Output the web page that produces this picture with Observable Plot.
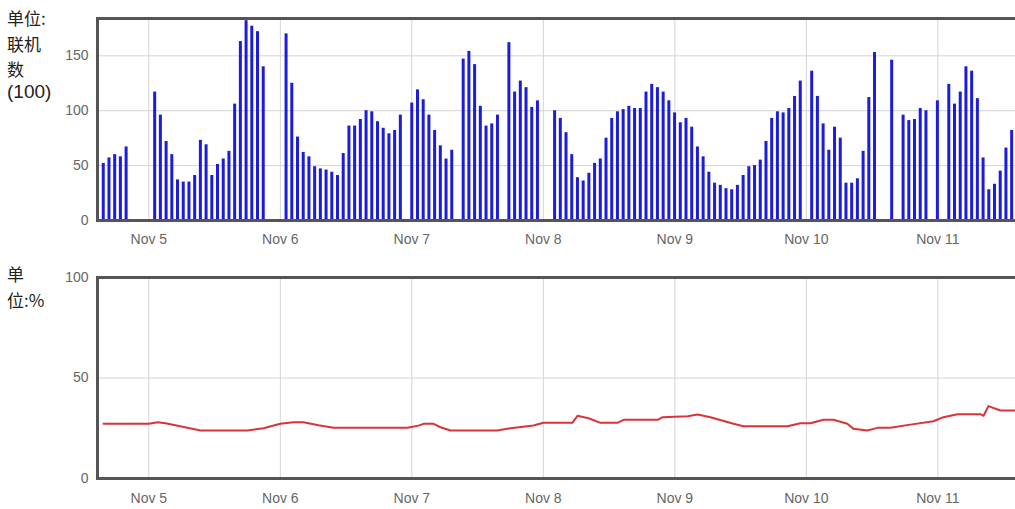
<!DOCTYPE html>
<html>
<head>
<meta charset="utf-8">
<script src="https://cdn.jsdelivr.net/npm/d3@7"></script>
<script src="https://cdn.jsdelivr.net/npm/@observablehq/plot@0.6"></script>
<style>
  html, body { margin: 0; padding: 0; background: #fff; overflow: hidden; width: 1015px; height: 509px; }
  #wrap { position: relative; width: 1015px; height: 509px; overflow: hidden; }
  .lbl { position: absolute; left: 7px; font-family: "Noto Sans CJK SC", "Liberation Sans", Arial, sans-serif; font-size: 17px; line-height: 18px; height: 18px; color: #222; white-space: pre; }
  .num { font-family: "Liberation Sans", Arial, sans-serif; font-size: 19px; }
  #topPanel { position: absolute; left: 0; top: 0; width: 1040px; }
  #botPanel { position: absolute; left: 0; top: 260px; width: 1040px; }
  svg { max-width: none !important; }
</style>
</head>
<body>
<div id="wrap">
  <div id="topPanel"></div>
  <div id="botPanel"></div>
  <div class="lbl" style="top:9px;">单位:</div>
  <div class="lbl" style="top:35px;">联机</div>
  <div class="lbl" style="top:60px;">数</div>
  <div class="lbl num" style="top:83px;">(100)</div>
  <div class="lbl" style="top:265px;">单</div>
  <div class="lbl" style="top:291px;">位:%</div>
</div>
<script>
// ---- data ----
const xDomain = ["2013-11-04T14:38Z", "2013-11-11T18:44Z"];
const dayTicks = ["2013-11-05", "2013-11-06", "2013-11-07", "2013-11-08", "2013-11-09", "2013-11-10", "2013-11-11"];

// top panel: online count (unit 100), regular samples (~62.5 min apart), null = missing
const barStart = "2013-11-04T15:41Z";
const barStepMinutes = 62.56;
const barValues = [
  52, 57, 60, 58, 67,
  null, null, null, null,
  117, 96, 72, 60, 37, 35, 35, 41, 73, 69, 41, 51, 56, 63, 106, 163, 182, 177, 172, 140,
  null, null, null,
  170, 125, 76, 62, 58, 49, 47, 46, 44, 41, 61, 86, 86, 92, 100, 99, 90, 84, 79, 82, 96,
  null,
  107, 119, 110, 96, 82, 68, 56, 64,
  null,
  147, 154, 142, 104, 86, 88, 96,
  null,
  162, 117, 127, 121, 103, 109,
  null, null,
  100, 93, 80, 60, 39, 36, 43, 52, 56, 75, 93, 99, 101, 104, 102, 102, 117, 124, 121, 117, 109, 98, 89,
  93, 85, 67, 58, 44, 34, 32, 29, 28, 32, 41, 49, 50, 55, 72, 93, 99, 98, 102, 113, 127,
  null,
  136, 113, 88, 64, 85, 75, 34, 34, 38, 63, 112, 153,
  null, null,
  146,
  null,
  96, 91, 92, 102, 100,
  null,
  109,
  null,
  124, 106, 117, 140, 136, 111, 57, 28, 33, 45, 66, 82
];

// bottom panel: percentage
const lineTimes = [
  "2013-11-04T15:44", "2013-11-05T00:00", "2013-11-05T01:35", "2013-11-05T03:04", "2013-11-05T09:27",
  "2013-11-05T18:01", "2013-11-05T20:56", "2013-11-06T00:00", "2013-11-06T02:24", "2013-11-06T04:13",
  "2013-11-06T06:58", "2013-11-06T09:42", "2013-11-06T23:12", "2013-11-07T01:12", "2013-11-07T02:08",
  "2013-11-07T03:58", "2013-11-07T05:14", "2013-11-07T07:03", "2013-11-07T15:37", "2013-11-07T18:00",
  "2013-11-07T22:12", "2013-11-08T00:00", "2013-11-08T05:17", "2013-11-08T06:14", "2013-11-08T08:15",
  "2013-11-08T10:26", "2013-11-08T13:32", "2013-11-08T14:38", "2013-11-08T20:51", "2013-11-08T21:46",
  "2013-11-09T02:20", "2013-11-09T04:09", "2013-11-09T06:30", "2013-11-09T10:42", "2013-11-09T12:32",
  "2013-11-09T20:34", "2013-11-09T22:55", "2013-11-10T00:45", "2013-11-10T03:07", "2013-11-10T04:57",
  "2013-11-10T07:29", "2013-11-10T08:36", "2013-11-10T11:08", "2013-11-10T12:58", "2013-11-10T15:20",
  "2013-11-10T18:59", "2013-11-10T23:11", "2013-11-11T01:00", "2013-11-11T03:35", "2013-11-11T07:47",
  "2013-11-11T08:20", "2013-11-11T09:14", "2013-11-11T11:25", "2013-11-11T14:24"
];
const lineValues = [
  27.2, 27.2, 28.0, 27.5, 23.9,
  23.9, 25.0, 27.2, 28.0, 28.0,
  26.5, 25.2, 25.2, 26.3, 27.2,
  27.2, 25.5, 23.9, 23.9, 25.0,
  26.4, 27.7, 27.7, 31.2, 30.0,
  27.7, 27.7, 29.2, 29.2, 30.5,
  31.0, 31.8, 30.5, 27.2, 26.0,
  26.0, 27.5, 27.5, 29.2, 29.2,
  27.2, 24.7, 23.9, 25.2, 25.2,
  26.8, 28.5, 30.5, 32.0, 32.0,
  31.2, 36.0, 33.8, 33.8
];

// ---- build tables ----
const t0 = new Date(barStart).getTime();
const bars = barValues.map((v, i) => ({t: new Date(t0 + i * barStepMinutes * 60000), v}))
  .filter(d => d.v != null);
const lineData = lineTimes.map((s, i) => ({t: new Date(s + "Z"), v: lineValues[i]}));
const tickDates = dayTicks.map(s => new Date(s + "T00:00Z"));
const xDom = xDomain.map(s => new Date(s));
const fmt = d3.utcFormat("%b %-d");

const common = {
  width: 1040,
  marginLeft: 97,
  marginRight: 0,
  style: {fontFamily: "'Liberation Sans', Arial, sans-serif", fontSize: "14px", color: "#666", background: "transparent", overflow: "visible", maxWidth: "none"}
};
const gridStyle = {stroke: "#d4d4d4", strokeOpacity: 1, strokeWidth: 1};

const topChart = Plot.plot({
  ...common,
  height: 260,
  marginTop: 18,
  marginBottom: 40,
  x: {type: "utc", domain: xDom},
  y: {domain: [0, 184]},
  marks: [
    Plot.gridY([50, 100, 150], gridStyle),
    Plot.gridX(tickDates, gridStyle),
    Plot.ruleX(bars, {x: "t", y1: 0, y2: "v", stroke: "#1c1cdc", strokeWidth: 3}),
    Plot.axisX(tickDates, {tickSize: 0, tickPadding: 14, tickFormat: fmt, label: null, fill: "#666"}),
    Plot.axisY([0, 50, 100, 150], {tickSize: 0, tickPadding: 9, label: null, fill: "#666"}),
    Plot.frame({stroke: "#555", strokeWidth: 3})
  ]
});
document.getElementById("topPanel").appendChild(topChart);

const botChart = Plot.plot({
  ...common,
  height: 249,
  marginTop: 17,
  marginBottom: 31,
  x: {type: "utc", domain: xDom},
  y: {domain: [0, 100]},
  marks: [
    Plot.gridY([50], gridStyle),
    Plot.gridX(tickDates, gridStyle),
    Plot.line(lineData, {x: "t", y: "v", stroke: "#dc3238", strokeWidth: 2}),
    Plot.axisX(tickDates, {tickSize: 0, tickPadding: 15, tickFormat: fmt, label: null, fill: "#666"}),
    Plot.axisY([0, 50, 100], {tickSize: 0, tickPadding: 9, label: null, fill: "#666"}),
    Plot.frame({stroke: "#555", strokeWidth: 3})
  ]
});
document.getElementById("botPanel").appendChild(botChart);
</script>
</body>
</html>
